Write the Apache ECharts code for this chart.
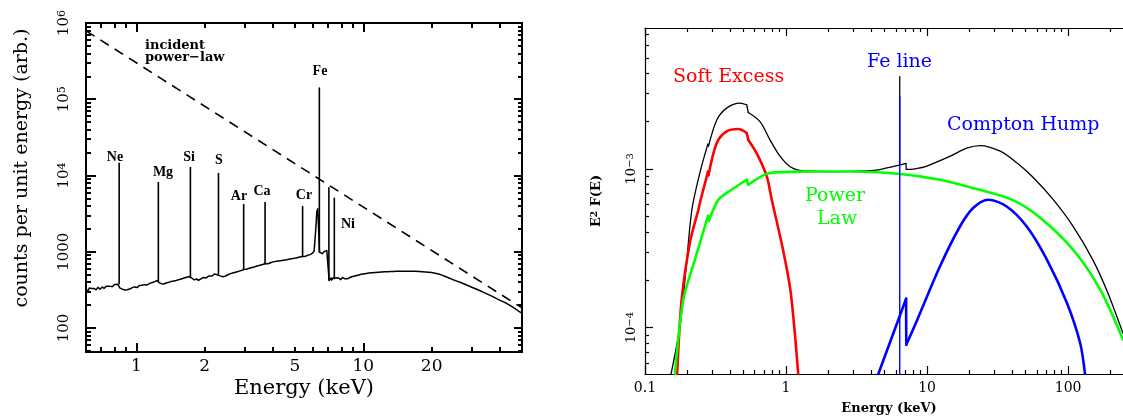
<!DOCTYPE html>
<html>
<head>
<meta charset="utf-8">
<script src="https://cdn.jsdelivr.net/npm/echarts@6/dist/echarts.min.js"></script>
<style>
  html, body { margin: 0; padding: 0; background: #fff; }
  #chart { width: 1123px; height: 417px; }
</style>
</head>
<body>
<div id="chart"></div>
<script>
// ---------- Left panel: reflected spectrum (energy keV, counts per unit energy) ----------
const reflContinuum = [
  [0.600, 315], [0.605, 305], [0.610, 322], [0.615, 312], [0.620, 333], [0.625, 320],
  [0.630, 318], [0.635, 330], [0.640, 326], [0.645, 315], [0.650, 330], [0.655, 338],
  [0.660, 321], [0.665, 316], [0.670, 327], [0.677, 340], [0.685, 335], [0.692, 322],
  [0.700, 329], [0.707, 344], [0.715, 340], [0.722, 331], [0.730, 346], [0.737, 352],
  [0.745, 338], [0.752, 345], [0.760, 352], [0.767, 365], [0.775, 361], [0.782, 348],
  [0.790, 355], [0.797, 366], [0.805, 372], [0.812, 360], [0.820, 380], [0.828, 374],
  [0.835, 392], [0.845, 336], [0.852, 328], [0.860, 330], [0.867, 322], [0.875, 318],
  [0.882, 326], [0.890, 314], [0.897, 309], [0.905, 322], [0.912, 316], [0.920, 330],
  [0.930, 335], [0.940, 326], [0.950, 342], [0.960, 338], [0.970, 330], [0.980, 345],
  [0.990, 354], [1.000, 350], [1.010, 338], [1.020, 342], [1.030, 360], [1.040, 357],
  [1.050, 348], [1.060, 362], [1.072, 375], [1.085, 370], [1.097, 359], [1.110, 364],
  [1.122, 380], [1.135, 378], [1.147, 368], [1.160, 390], [1.172, 402], [1.185, 398],
  [1.197, 388], [1.210, 408], [1.222, 414], [1.235, 420], [1.260, 392], [1.275, 385],
  [1.290, 380], [1.305, 372], [1.320, 376], [1.335, 392], [1.350, 388], [1.365, 384],
  [1.380, 395], [1.400, 410], [1.420, 405], [1.440, 398], [1.460, 412], [1.480, 425],
  [1.500, 420], [1.525, 414], [1.550, 432], [1.575, 440], [1.600, 445], [1.625, 436],
  [1.650, 458], [1.675, 452], [1.700, 470], [1.745, 455], [1.762, 440], [1.780, 430],
  [1.800, 426], [1.820, 420], [1.840, 438], [1.860, 432], [1.880, 422], [1.900, 428],
  [1.925, 440], [1.950, 446], [1.975, 458], [2.000, 462], [2.030, 452], [2.060, 470],
  [2.090, 480], [2.120, 488], [2.150, 478], [2.180, 500], [2.210, 510], [2.240, 508],
  [2.270, 498], [2.300, 520], [2.340, 482], [2.370, 474], [2.400, 470], [2.430, 482],
  [2.460, 476], [2.495, 490], [2.530, 498], [2.565, 506], [2.600, 515], [2.640, 510],
  [2.680, 528], [2.720, 536], [2.760, 542], [2.800, 534], [2.840, 556], [2.880, 562],
  [2.920, 570], [2.980, 586], [3.015, 578], [3.050, 590], [3.085, 604], [3.120, 600],
  [3.160, 596], [3.200, 614], [3.250, 624], [3.300, 630], [3.350, 622], [3.400, 650],
  [3.450, 658], [3.500, 664], [3.550, 655], [3.600, 680], [3.650, 690], [3.700, 700],
  [3.750, 686], [3.800, 694], [3.850, 710], [3.900, 715], [3.950, 706], [4.000, 735],
  [4.075, 742], [4.150, 748], [4.225, 740], [4.300, 760], [4.375, 770], [4.450, 772],
  [4.525, 764], [4.600, 785], [4.675, 792], [4.750, 800], [4.825, 792], [4.900, 815],
  [4.975, 822], [5.050, 826], [5.125, 818], [5.200, 846], [5.275, 852], [5.350, 862],
  [5.450, 872], [5.525, 866], [5.600, 885], [5.675, 896], [5.750, 905], [5.825, 915],
  [5.900, 935], [5.950, 948], [6.000, 960], [6.070, 1010], [6.130, 1500], [6.180, 2100],
  [6.240, 3400], [6.300, 3650], [6.370, 3700], [6.410, 990], [6.440, 1005], [6.470, 975],
  [6.510, 962], [6.550, 955], [6.590, 940], [6.620, 948], [6.660, 970], [6.700, 985],
  [6.740, 1010], [6.780, 1030], [6.820, 1018], [6.860, 1050], [6.900, 1035], [6.940, 1010],
  [7.000, 995], [7.040, 980], [7.070, 420], [7.095, 445], [7.120, 432], [7.150, 410],
  [7.180, 440], [7.215, 452], [7.250, 425], [7.290, 418], [7.330, 438], [7.370, 455],
  [7.400, 446], [7.500, 430], [7.550, 452], [7.600, 460], [7.650, 445], [7.700, 432],
  [7.750, 455], [7.800, 462], [7.850, 440], [7.900, 448], [7.950, 430], [8.000, 438],
  [8.050, 448], [8.100, 458], [8.150, 435], [8.220, 445], [8.300, 440], [8.370, 456],
  [8.450, 452], [8.520, 440], [8.600, 445], [8.700, 458], [8.800, 462], [8.900, 470],
  [9.000, 470], [9.150, 480], [9.300, 484], [9.450, 492], [9.600, 498], [9.800, 506],
  [10.00, 510], [10.30, 518], [10.60, 524], [10.90, 530], [11.30, 535], [11.70, 539],
  [12.00, 542], [12.40, 545], [12.80, 547], [13.20, 549], [13.60, 550], [14.00, 552],
  [14.50, 553], [15.00, 554], [15.50, 554], [16.00, 554], [16.50, 553], [17.00, 552],
  [17.60, 550], [18.20, 547], [18.80, 543], [19.40, 538], [20.00, 532], [20.70, 522],
  [21.50, 510], [22.20, 492], [23.00, 472], [23.70, 455], [24.50, 437], [25.20, 422],
  [26.00, 408], [27.00, 391], [28.00, 374], [29.00, 358], [30.00, 342], [31.20, 326],
  [32.50, 310], [33.70, 295], [35.00, 280], [36.20, 267], [37.50, 254], [38.70, 242],
  [40.00, 230], [41.20, 221], [42.50, 212], [43.70, 202], [45.00, 192], [46.20, 182],
  [47.50, 172], [48.70, 163], [50.00, 155]
];
const incidentPowerLaw = [[0.6, 7.9e5], [50, 183]];

// fluorescence lines: energy, continuum level at the foot, peak
const lineNames    = ['Ne', 'Mg', 'Si', 'S', 'Ar', 'Ca', 'Cr', 'Fe', 'Fe Kb', 'Ni'];
const lineEnergies = [0.84, 1.25, 1.73, 2.30, 2.97, 3.69, 5.40, 6.40, 7.05, 7.45];
const lineBase     = [380, 405, 462, 512, 582, 692, 868, 985, 425, 442];
const linePeaks    = [1.44e4, 8.1e3, 1.27e4, 1.06e4, 4.15e3, 4.4e3, 3.9e3, 1.4e5, 6.9e3, 5.0e3];

const leftXTickLabels = [1, 2, 5, 10, 20];
const leftYTickLabels = [100, 1000, 1e4, 1e5, 1e6];

// ---------- Right panel: model components, E^2 F(E) ----------
const totalModel = [
  [0.153, 5.1e-5], [0.177, 1.02e-4], [0.195, 2.31e-4], [0.215, 5.52e-4], [0.246, 9.57e-4],
  [0.279, 1.43e-3], [0.282, 1.39e-3], [0.323, 2.03e-3], [0.379, 2.41e-3], [0.472, 2.59e-3],
  [0.526, 2.53e-3], [0.540, 2.26e-3], [0.654, 1.98e-3], [0.770, 1.52e-3], [0.906, 1.20e-3],
  [1.07, 1.03e-3], [1.33, 9.7e-4], [2.41, 9.6e-4], [4.16, 9.76e-4], [6.25, 1.05e-3],
  [7.08, 1.08e-3], [7.12, 9.9e-4], [8.2, 1.0e-3], [9.97, 1.04e-3], [14.6, 1.20e-3],
  [19.1, 1.35e-3], [23.8, 1.40e-3], [33.0, 1.29e-3], [43.3, 1.09e-3], [56.8, 8.78e-4],
  [78.5, 6.39e-4], [108.5, 4.34e-4], [150.4, 2.65e-4], [192, 1.64e-4], [245, 9.2e-5]
];
const totalFePeak = [[6.40, 1.06e-3], [6.40, 3.8e-3]];
const softExcess = [
  [0.169, 5.1e-5], [0.182, 1.50e-4], [0.209, 3.49e-4], [0.239, 5.52e-4], [0.248, 6.38e-4],
  [0.280, 9.6e-4], [0.282, 9.1e-4], [0.322, 1.45e-3], [0.379, 1.72e-3], [0.459, 1.78e-3],
  [0.526, 1.68e-3], [0.540, 1.52e-3], [0.620, 1.25e-3], [0.730, 8.95e-4], [0.792, 6.38e-4],
  [0.952, 3.09e-4], [1.08, 1.66e-4], [1.22, 5.1e-5]
];
const powerLawComp = [
  [0.163, 5.1e-5], [0.187, 1.50e-4], [0.226, 2.68e-4], [0.280, 5.05e-4], [0.283, 4.70e-4],
  [0.305, 5.52e-4], [0.331, 6.38e-4], [0.379, 7.03e-4], [0.526, 8.53e-4], [0.540, 7.93e-4],
  [0.770, 9.4e-4], [1.32, 9.6e-4], [2.84, 9.62e-4], [6.23, 9.3e-4], [12.4, 8.53e-4],
  [21.2, 7.56e-4], [40.6, 6.35e-4], [63.1, 4.93e-4], [108.5, 3.09e-4], [168.6, 1.74e-4],
  [245, 8.4e-5]
];
const comptonHump = [
  [4.51, 5.1e-5], [7.10, 1.52e-4], [7.12, 7.8e-5], [8.45, 1.10e-4], [12.35, 2.43e-4],
  [17.1, 4.33e-4], [21.2, 5.66e-4], [27.2, 6.38e-4], [36.7, 5.79e-4], [50.9, 4.33e-4],
  [70.7, 2.68e-4], [98.1, 1.43e-4], [121.7, 8.0e-5], [131.8, 5.1e-5]
];
const feLine = [[6.40, 5.1e-5], [6.40, 2.85e-3]];

const rightXTickLabels = [0.1, 1, 10, 100];
const rightYTickLabels = [1e-4, 1e-3];

// ---------- helpers ----------
const AXFONT = '"DejaVu Serif", serif';
const TIMES = '"Liberation Serif", "DejaVu Serif", serif';

function minorsBetween(lo, hi) {
  const out = [];
  for (let d = Math.floor(Math.log10(lo)); d <= Math.ceil(Math.log10(hi)); d++) {
    for (let m = 2; m <= 9; m++) {
      const v = +(m * Math.pow(10, d)).toPrecision(6);
      if (v > lo && v < hi) out.push(v);
    }
  }
  return out;
}
function decadesBetween(lo, hi) {
  const out = [];
  for (let d = Math.ceil(Math.log10(lo) - 1e-9); d <= Math.floor(Math.log10(hi) + 1e-9); d++) {
    out.push(+Math.pow(10, d).toPrecision(6));
  }
  return out;
}

function logAxis(o) {
  return {
    type: 'log', logBase: 10, gridIndex: o.grid, position: o.pos,
    min: o.min, max: o.max,
    axisLine: { show: !!o.line, onZero: false, lineStyle: { color: '#000', width: o.lw } },
    axisTick: { show: true, inside: true, length: o.len, customValues: o.ticks,
                lineStyle: { color: '#000', width: o.lw } },
    axisLabel: o.label ? Object.assign({ show: true, customValues: o.labelValues }, o.label)
                       : { show: false },
    splitLine: { show: false },
    minorTick: { show: false },
    minorSplitLine: { show: false }
  };
}

const supExp = v => {
  const n = Math.round(Math.log10(v));
  return n < 0 ? '10{sup|\u2212' + (-n) + '}' : '10{sup|' + n + '}';
};

// axis ranges
const L = { xmin: 0.6, xmax: 50, ymin: 48.3, ymax: 1e6 };
const R = { xmin: 0.1, xmax: 245, ymin: 5.1e-5, ymax: 7.7e-3 };

const xAxes = [
  logAxis({ grid: 0, pos: 'bottom', min: L.xmin, max: L.xmax, line: true, lw: 2, len: 9,
            ticks: decadesBetween(L.xmin, L.xmax), labelValues: leftXTickLabels,
            label: { margin: 6, color: '#000', fontFamily: AXFONT, fontSize: 17,
                     formatter: v => String(+v.toPrecision(6)) } }),
  logAxis({ grid: 0, pos: 'bottom', min: L.xmin, max: L.xmax, lw: 2, len: 5,
            ticks: minorsBetween(L.xmin, L.xmax) }),
  logAxis({ grid: 0, pos: 'top', min: L.xmin, max: L.xmax, line: true, lw: 2, len: 9,
            ticks: decadesBetween(L.xmin, L.xmax) }),
  logAxis({ grid: 0, pos: 'top', min: L.xmin, max: L.xmax, lw: 2, len: 5,
            ticks: minorsBetween(L.xmin, L.xmax) }),
  logAxis({ grid: 1, pos: 'bottom', min: R.xmin, max: R.xmax, line: true, lw: 1.2, len: 8,
            ticks: decadesBetween(R.xmin, R.xmax), labelValues: rightXTickLabels,
            label: { margin: 7, color: '#000', fontFamily: AXFONT, fontSize: 14,
                     formatter: v => String(+v.toPrecision(6)) } }),
  logAxis({ grid: 1, pos: 'bottom', min: R.xmin, max: R.xmax, lw: 1.2, len: 4,
            ticks: minorsBetween(R.xmin, R.xmax) }),
  logAxis({ grid: 1, pos: 'top', min: R.xmin, max: R.xmax, line: true, lw: 1.2, len: 8,
            ticks: decadesBetween(R.xmin, R.xmax) }),
  logAxis({ grid: 1, pos: 'top', min: R.xmin, max: R.xmax, lw: 1.2, len: 4,
            ticks: minorsBetween(R.xmin, R.xmax) })
];

const yAxes = [
  logAxis({ grid: 0, pos: 'left', min: L.ymin, max: L.ymax, line: true, lw: 2, len: 10,
            ticks: decadesBetween(L.ymin, L.ymax), labelValues: leftYTickLabels,
            label: { rotate: 90, margin: 14, color: '#000', fontFamily: AXFONT, fontSize: 15,
                     formatter: v => (v < 1e4 ? String(Math.round(v)) : supExp(v)),
                     rich: { sup: { fontFamily: AXFONT, fontSize: 11, verticalAlign: 'top',
                                    lineHeight: 11, color: '#000' } } } }),
  logAxis({ grid: 0, pos: 'left', min: L.ymin, max: L.ymax, lw: 2, len: 5,
            ticks: minorsBetween(L.ymin, L.ymax) }),
  logAxis({ grid: 0, pos: 'right', min: L.ymin, max: L.ymax, line: true, lw: 2, len: 8,
            ticks: decadesBetween(L.ymin, L.ymax) }),
  logAxis({ grid: 0, pos: 'right', min: L.ymin, max: L.ymax, lw: 2, len: 4,
            ticks: minorsBetween(L.ymin, L.ymax) }),
  logAxis({ grid: 1, pos: 'left', min: R.ymin, max: R.ymax, line: true, lw: 1.2, len: 8,
            ticks: decadesBetween(R.ymin, R.ymax), labelValues: rightYTickLabels,
            label: { rotate: 90, margin: 7, color: '#000', fontFamily: AXFONT, fontSize: 13,
                     formatter: supExp,
                     rich: { sup: { fontFamily: AXFONT, fontSize: 10, verticalAlign: 'top',
                                    lineHeight: 10, color: '#000' } } } }),
  logAxis({ grid: 1, pos: 'left', min: R.ymin, max: R.ymax, lw: 1.2, len: 4,
            ticks: minorsBetween(R.ymin, R.ymax) })
];

function lineSeries(data, xi, yi, color, width, extra) {
  return Object.assign({
    type: 'line', xAxisIndex: xi, yAxisIndex: yi, data: data,
    showSymbol: false, symbol: 'none', clip: true, silent: true,
    lineStyle: { color: color, width: width, cap: 'round', join: 'round' }
  }, extra || {});
}

// A model curve is smooth between absorption edges; at an edge the curve
// jumps almost vertically, so it is cut there and the jump drawn straight.
function edgeSplitSeries(data, xi, yi, color, width) {
  const out = [];
  let run = [data[0]];
  for (let i = 1; i < data.length; i++) {
    const a = data[i - 1], b = data[i];
    if (b[0] / a[0] < 1.03) {
      out.push(lineSeries(run, xi, yi, color, width, { smooth: 0.3 }));
      out.push(lineSeries([a, b], xi, yi, color, width));
      run = [b];
    } else {
      run.push(b);
    }
  }
  out.push(lineSeries(run, xi, yi, color, width, { smooth: 0.3 }));
  return out;
}

const series = [
  lineSeries(reflContinuum, 0, 0, '#000', 1.5),
  ...lineEnergies.map((e, i) =>
    lineSeries([[e, lineBase[i]], [e, linePeaks[i]]], 0, 0, '#000', 1.6)),
  lineSeries(incidentPowerLaw, 0, 0, '#000', 1.6,
             { lineStyle: { color: '#000', width: 1.6, type: [10, 7] } }),

  ...edgeSplitSeries(totalModel, 4, 4, '#000', 1.3),
  lineSeries(totalFePeak, 4, 4, '#000', 1.3),
  ...edgeSplitSeries(softExcess, 4, 4, '#ff0000', 2.6),
  ...edgeSplitSeries(powerLawComp, 4, 4, '#00ff00', 2.6),
  ...edgeSplitSeries(comptonHump, 4, 4, '#0000ff', 2.6),
  lineSeries(feLine, 4, 4, '#0000ff', 1.4)
];

// annotation text
function txt(str, x, y, font, color, align, rot, rich) {
  return {
    type: 'text', x: x, y: y, rotation: rot || 0, silent: true,
    style: { text: str, font: font, fill: color, align: align || 'center',
             verticalAlign: 'middle', rich: rich }
  };
}
const lineLabelFont = 'bold 14px ' + TIMES;
const compFont = '19px "DejaVu Serif", serif';
const graphics = [
  txt('counts per unit energy (arb.)', 22, 168, '19px ' + AXFONT, '#000', 'center', Math.PI / 2),
  txt('Energy (keV)', 304, 389, '21px ' + AXFONT, '#000'),
  txt('incident', 145, 46, 'bold 13px ' + AXFONT, '#000', 'left'),
  txt('power\u2212law', 145, 58, 'bold 13px ' + AXFONT, '#000', 'left'),
  txt(lineNames[0], 115, 157, lineLabelFont, '#000'),
  txt(lineNames[1], 163, 172, lineLabelFont, '#000'),
  txt(lineNames[2], 189, 157, lineLabelFont, '#000'),
  txt(lineNames[3], 219, 160, lineLabelFont, '#000'),
  txt(lineNames[4], 239, 196, lineLabelFont, '#000'),
  txt(lineNames[5], 262, 191, lineLabelFont, '#000'),
  txt(lineNames[6], 304, 195, lineLabelFont, '#000'),
  txt(lineNames[7], 320, 71, lineLabelFont, '#000'),
  txt(lineNames[9], 348, 224, lineLabelFont, '#000'),

  txt('E{sup|2} F(E)', 597, 201, 'bold 13px ' + AXFONT, '#000', 'center', Math.PI / 2,
      { sup: { fontFamily: AXFONT, fontSize: 9, fontWeight: 'bold', verticalAlign: 'top', lineHeight: 9 } }),
  txt('Energy (keV)', 889, 409, 'bold 13px ' + AXFONT, '#000'),
  txt('Soft Excess', 673, 77, compFont, '#ff0000', 'left'),
  txt('Fe line', 867, 62, compFont, '#0000ff', 'left'),
  txt('Compton Hump', 947, 125, compFont, '#0000ff', 'left'),
  txt('Power', 805, 196, compFont, '#00ff00', 'left'),
  txt('Law', 817, 219, compFont, '#00ff00', 'left')
];

const chart = echarts.init(document.getElementById('chart'), null, { renderer: 'canvas' });
chart.setOption({
  animation: false,
  backgroundColor: '#fff',
  grid: [
    { left: 86, top: 23, width: 436, height: 329 },
    { left: 645, top: 28, width: 478, height: 346 }
  ],
  xAxis: xAxes,
  yAxis: yAxes,
  series: series,
  graphic: graphics
});
</script>
</body>
</html>
